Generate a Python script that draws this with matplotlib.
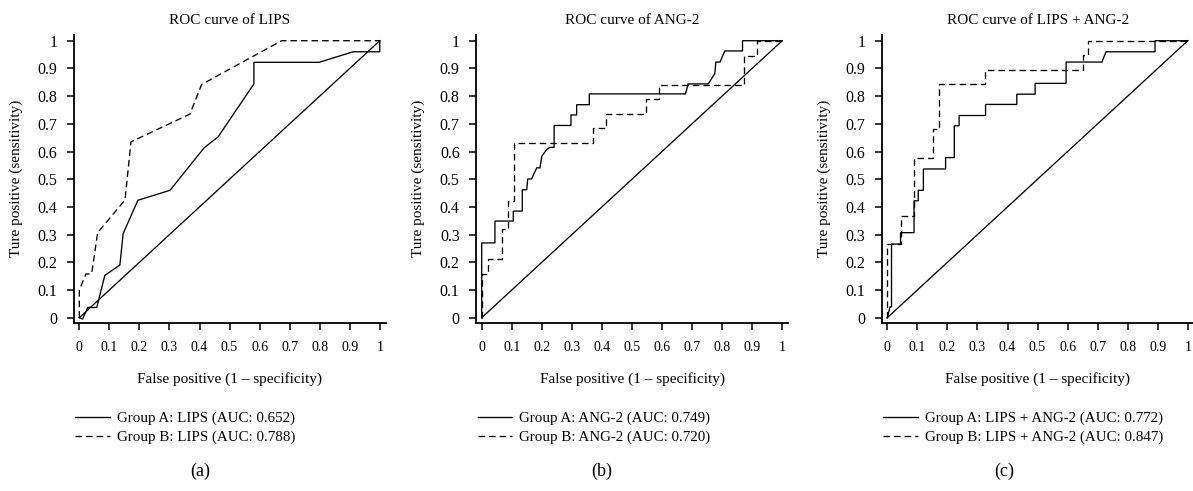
import matplotlib
matplotlib.use("Agg")
import matplotlib.pyplot as plt

plt.rcParams['font.family'] = ['Liberation Serif', 'DejaVu Serif']

# ---------------- data ----------------
titles = ["ROC curve of LIPS", "ROC curve of ANG-2", "ROC curve of LIPS + ANG-2"]
captions = ["(a)", "(b)", "(c)"]
labels_a = ["Group A: LIPS (AUC: 0.652)", "Group B: LIPS (AUC: 0.788)"]
labels_b = ["Group A: ANG-2 (AUC: 0.749)", "Group B: ANG-2 (AUC: 0.720)"]
labels_c = ["Group A: LIPS + ANG-2 (AUC: 0.772)", "Group B: LIPS + ANG-2 (AUC: 0.847)"]

tick_values = [0, 0.1, 0.2, 0.3, 0.4, 0.5, 0.6, 0.7, 0.8, 0.9, 1]
tick_labels = ["0", "0.1", "0.2", "0.3", "0.4", "0.5", "0.6", "0.7", "0.8", "0.9", "1"]

diag_x = [0, 1]
diag_y = [0, 1]

# (a) LIPS
a_A_fpr = [0, 0.011, 0.028, 0.058, 0.085, 0.135, 0.146, 0.195, 0.302, 0.415, 0.462,
           0.581, 0.581, 0.798, 0.911, 1.0, 1.0]
a_A_tpr = [0, -0.005, 0.037, 0.037, 0.153, 0.190, 0.304, 0.424, 0.460, 0.613, 0.653,
           0.844, 0.922, 0.922, 0.960, 0.960, 1.0]
a_B_fpr = [0, 0, 0.022, 0.041, 0.061, 0.152, 0.172, 0.368, 0.407, 0.545, 0.673, 1.0]
a_B_tpr = [0, 0.100, 0.158, 0.158, 0.307, 0.425, 0.635, 0.735, 0.842, 0.924, 1.0, 1.0]

# (b) ANG-2
b_A_fpr = [0, 0, 0.044, 0.044, 0.105, 0.105, 0.135, 0.135, 0.150, 0.153, 0.166, 0.183,
           0.194, 0.200, 0.216, 0.227, 0.241, 0.241, 0.297, 0.297, 0.316, 0.316, 0.358,
           0.358, 0.678, 0.687, 0.754, 0.776, 0.779, 0.793, 0.809, 0.868, 0.868, 1.0]
b_A_tpr = [0, 0.270, 0.270, 0.349, 0.349, 0.385, 0.385, 0.462, 0.462, 0.501, 0.501, 0.541,
           0.541, 0.583, 0.607, 0.615, 0.615, 0.694, 0.694, 0.732, 0.732, 0.769, 0.769,
           0.808, 0.808, 0.844, 0.844, 0.882, 0.923, 0.923, 0.963, 0.963, 1.0, 1.0]
b_B_fpr = [0, 0, 0.022, 0.022, 0.067, 0.067, 0.089, 0.089, 0.109, 0.109, 0.371, 0.371,
           0.412, 0.412, 0.547, 0.547, 0.590, 0.590, 0.873, 0.873, 0.915, 0.915, 1.0]
b_B_tpr = [0, 0.159, 0.159, 0.213, 0.213, 0.319, 0.319, 0.421, 0.421, 0.631, 0.631, 0.685,
           0.685, 0.737, 0.737, 0.790, 0.790, 0.841, 0.841, 0.946, 0.946, 1.0, 1.0]

# (c) LIPS + ANG-2
c_A_fpr = [0, 0.009, 0.014, 0.014, 0.044, 0.044, 0.089, 0.089, 0.103, 0.103, 0.120, 0.120,
           0.194, 0.194, 0.223, 0.223, 0.239, 0.239, 0.327, 0.327, 0.431, 0.431, 0.492,
           0.492, 0.595, 0.595, 0.714, 0.728, 0.891, 0.891, 1.0]
c_A_tpr = [0, 0.039, 0.039, 0.266, 0.266, 0.307, 0.307, 0.422, 0.422, 0.460, 0.460, 0.537,
           0.537, 0.578, 0.578, 0.693, 0.693, 0.730, 0.730, 0.770, 0.770, 0.807, 0.807,
           0.846, 0.846, 0.923, 0.923, 0.960, 0.960, 1.0, 1.0]
c_B_fpr = [0, 0, 0.044, 0.044, 0.089, 0.089, 0.153, 0.153, 0.173, 0.173, 0.325, 0.325,
           0.650, 0.650, 0.669, 0.669, 1.0]
c_B_tpr = [0, 0.266, 0.266, 0.367, 0.367, 0.578, 0.578, 0.681, 0.681, 0.843, 0.843, 0.895,
           0.895, 0.947, 0.947, 1.0, 1.0]

panels = [
    (a_A_fpr, a_A_tpr, a_B_fpr, a_B_tpr, labels_a),
    (b_A_fpr, b_A_tpr, b_B_fpr, b_B_tpr, labels_b),
    (c_A_fpr, c_A_tpr, c_B_fpr, c_B_tpr, labels_c),
]

# ---------------- layout ----------------
W, H = 1193, 491
fig = plt.figure(figsize=(W / 100, H / 100), dpi=100)

ax_lefts_px = [73.9, 476.3, 881.9]
ax_w_px = 311.6
ax_bottom_px = 491 - 322.7
ax_h_px = 287.8
panel_centers_px = [200, 602, 1004]

lw = 0.95
dash = (0, (5, 3))

for i, (xa, ya, xb, yb, labs) in enumerate(panels):
    left = ax_lefts_px[i]
    ax = fig.add_axes([left / W, ax_bottom_px / H, ax_w_px / W, ax_h_px / H])
    ax.plot(diag_x, diag_y, color='black', lw=lw)
    la, = ax.plot(xa, ya, color='black', lw=lw, solid_joinstyle='miter')
    lb, = ax.plot(xb, yb, color='black', lw=lw, linestyle=dash)
    ax.set_xlim(-0.018, 1.019)
    ax.set_ylim(-0.018, 1.021)
    for s in ['top', 'right']:
        ax.spines[s].set_visible(False)
    ax.spines['left'].set_linewidth(1.3)
    ax.spines['bottom'].set_linewidth(1.3)
    ax.set_xticks(tick_values)
    ax.set_xticklabels(tick_labels)
    ax.set_yticks(tick_values)
    ax.set_yticklabels(tick_labels)
    ax.tick_params(axis='both', direction='out', length=5, width=1.1, pad=7)
    ax.tick_params(axis='x', pad=8, labelsize=10)
    ax.tick_params(axis='y', labelsize=11.5)
    ax.set_title(titles[i], fontsize=11, y=(322.7 - 23.5) / ax_h_px, pad=0,
                 va='baseline')
    ax.set_xlabel("False positive (1 \u2013 specificity)", fontsize=11, va='center')
    ax.xaxis.set_label_coords(0.5, (322.7 - 379) / ax_h_px)
    ax.set_ylabel("Ture positive (sensitivity)", fontsize=11, va='center')
    ax.yaxis.set_label_coords(-58 / ax_w_px, 0.5)

    leg_x = (left + 1.5) / W
    ax.legend([la, lb], labs, loc='center left',
              bbox_to_anchor=(leg_x, 1 - 428 / H), bbox_transform=fig.transFigure,
              frameon=False, fontsize=10.8, handlelength=2.3, handletextpad=0.45,
              labelspacing=0.35, borderpad=0, borderaxespad=0)

    fig.text(panel_centers_px[i] / W, 1 - 471 / H, captions[i], fontsize=13,
             ha='center', va='center')

fig.savefig("out.png", dpi=100)
